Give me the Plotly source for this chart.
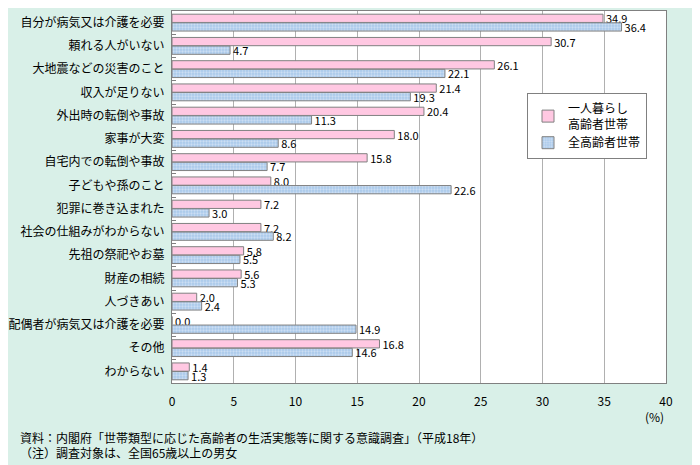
import plotly.graph_objects as go

categories = ["自分が病気又は介護を必要", "頼れる人がいない", "大地震などの災害のこと", "収入が足りない",
              "外出時の転倒や事故", "家事が大変", "自宅内での転倒や事故", "子どもや孫のこと",
              "犯罪に巻き込まれた", "社会の仕組みがわからない", "先祖の祭祀やお墓", "財産の相続",
              "人づきあい", "配偶者が病気又は介護を必要", "その他", "わからない"]
single = [34.9, 30.7, 26.1, 21.4, 20.4, 18.0, 15.8, 8.0, 7.2, 7.2, 5.8, 5.6, 2.0, 0.0, 16.8, 1.4]
allhh = [36.4, 4.7, 22.1, 19.3, 11.3, 8.6, 7.7, 22.6, 3.0, 8.2, 5.5, 5.3, 2.4, 14.9, 14.6, 1.3]
x_ticks = [0, 5, 10, 15, 20, 25, 30, 35, 40]

FONT = "Noto Sans CJK JP"
OFF = 8  # page body margin offset
L, R, T, B = 172 - OFF, 34 + OFF, 11 - OFF, 82 + OFF

fig = go.Figure()
fig.add_trace(go.Bar(
    y=categories, x=single, orientation="h", name="一人暮らし<br>高齢者世帯",
    marker=dict(color="#ffc8e2", line=dict(color="#808080", width=1)),
    text=[f"{v:.1f}" for v in single], textposition="outside", cliponaxis=False,
    textfont=dict(size=11, color="#000"),
))
fig.add_trace(go.Bar(
    y=categories, x=allhh, orientation="h", name="全高齢者世帯",
    marker=dict(color="#b4d0ee", line=dict(color="#808080", width=1),
                pattern=dict(shape=".", fgcolor="#eef4fb", bgcolor="#a9c8ea", size=3, solidity=0.45)),
    text=[f"{v:.1f}" for v in allhh], textposition="outside", cliponaxis=False,
    textfont=dict(size=11, color="#000"),
))

pw, ph = 700 - L - R, 465 - T - B

def px(x, y):
    return (x - OFF - L) / pw, (465 - B - (y - OFF)) / ph

lx, ly = px(527, 93)
fig.update_layout(
    width=700, height=465,
    paper_bgcolor="#d9f0e8", plot_bgcolor="#ffffff",
    margin=dict(l=L, r=R, t=T, b=B, autoexpand=False),
    barmode="group", bargap=0.26, bargroupgap=0.04,
    uniformtext=dict(minsize=11, mode="show"),
    font=dict(family=FONT, size=12, color="#000"),
    showlegend=True,
    legend=dict(x=lx, y=ly, xanchor="left", yanchor="top",
                bgcolor="#ffffff", bordercolor="#808080", borderwidth=1,
                font=dict(size=12), tracegroupgap=2),
    xaxis=dict(range=[0, 40], tickvals=x_ticks, ticktext=[str(t) for t in x_ticks],
               showgrid=True, gridcolor="#b0b0b0", gridwidth=1, zeroline=False,
               showline=True, linecolor="#808080", mirror=True, ticks="", ticklen=0,
               tickfont=dict(size=12, color="#000"), ticklabelstandoff=8, automargin=False),
    yaxis=dict(autorange="reversed", showline=True, linecolor="#808080", mirror=True,
               ticks="inside", tickson="boundaries", ticklen=4, tickcolor="#808080",
               tickfont=dict(size=12, color="#000"), showgrid=False,
               automargin=False, ticklabelstandoff=4),
)

ax, ay = px(666, 406)
fig.add_annotation(text="(%)", x=ax, y=ay, xref="paper", yref="paper", xanchor="right",
                   yanchor="top", showarrow=False, font=dict(size=12))
ax, ay = px(18, 437)
fig.add_annotation(text="資料：内閣府「世帯類型に応じた高齢者の生活実態等に関する意識調査」（平成18年）",
                   x=ax, y=ay, xref="paper", yref="paper", showarrow=False, xanchor="left",
                   yanchor="middle", font=dict(size=12))
ax, ay = px(18, 452)
fig.add_annotation(text="（注）調査対象は、全国65歳以上の男女",
                   x=ax, y=ay, xref="paper", yref="paper", showarrow=False, xanchor="left",
                   yanchor="middle", font=dict(size=12))
fig.write_html("out.html")
